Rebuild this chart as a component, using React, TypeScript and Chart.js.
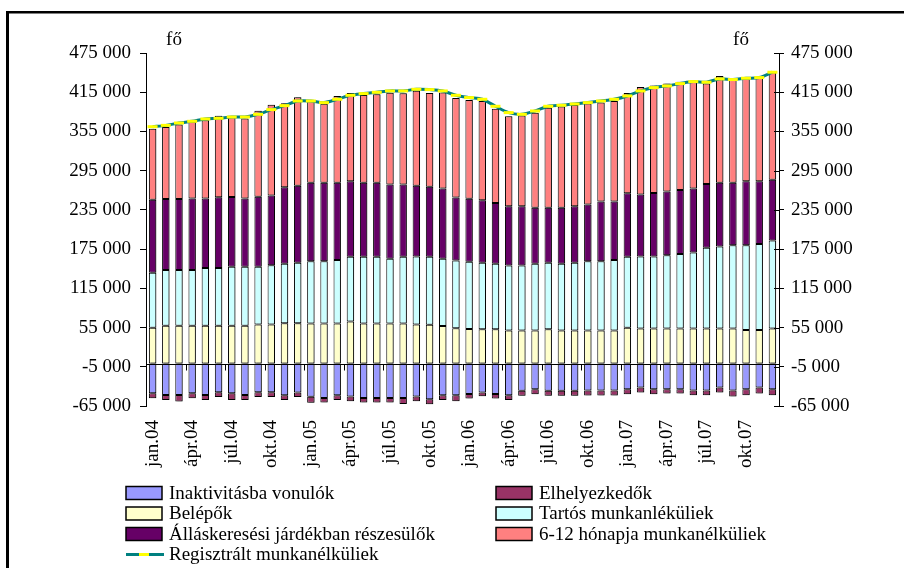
import React, { useEffect, useRef } from 'react';
import { Chart, registerables } from 'chart.js';

Chart.register(...registerables);

const categories = [
  'jan.04', 'febr.04', 'márc.04', 'ápr.04', 'máj.04', 'jún.04', 'júl.04', 'aug.04', 'szept.04', 'okt.04', 'nov.04', 'dec.04',
  'jan.05', 'febr.05', 'márc.05', 'ápr.05', 'máj.05', 'jún.05', 'júl.05', 'aug.05', 'szept.05', 'okt.05', 'nov.05', 'dec.05',
  'jan.06', 'febr.06', 'márc.06', 'ápr.06', 'máj.06', 'jún.06', 'júl.06', 'aug.06', 'szept.06', 'okt.06', 'nov.06', 'dec.06',
  'jan.07', 'febr.07', 'márc.07', 'ápr.07', 'máj.07', 'jún.07', 'júl.07', 'aug.07', 'szept.07', 'okt.07', 'nov.07', 'dec.07',
];

const inaktivitasba = [
  -45500, -48000, -48000, -45500, -48000, -43900, -45500, -48000, -43900, -43900, -48500, -44500,
  -50800, -52600, -48600, -50600, -52600, -52600, -52600, -52600, -50600, -54700, -48600, -48600,
  -46500, -44400, -46500, -48500, -41600, -39500, -41600, -41600, -41600, -41400, -41400, -41400,
  -39300, -36800, -39300, -39300, -39300, -41400, -41400, -36800, -41400, -39300, -36800, -39300,
];

const elhelyezkedok = [
  -7700, -7700, -10200, -7700, -7700, -7200, -10200, -7700, -7200, -7200, -7200, -6600,
  -9200, -7200, -7200, -7200, -7200, -7200, -7200, -9200, -7200, -7700, -7200, -9200,
  -7200, -5600, -7200, -7200, -7700, -7400, -7700, -7700, -7700, -7700, -7700, -7700,
  -7700, -7700, -7700, -6600, -6600, -7200, -7200, -7700, -9200, -9200, -9200, -9200,
];

const belepok = [
  54700, 57700, 57700, 57700, 57700, 57700, 57700, 57700, 59800, 59800, 61500, 61500,
  61300, 61300, 61300, 64400, 61300, 61300, 61300, 61300, 59500, 59300, 57200, 54000,
  52600, 52400, 52400, 50400, 50400, 50400, 52400, 50400, 50600, 50600, 50600, 50600,
  54700, 53700, 53700, 53700, 53700, 53700, 53700, 53700, 53700, 51100, 51100, 53700,
];

const tartos = [
  84300, 85300, 85300, 85300, 88400, 88400, 90400, 90400, 88400, 90400, 91000, 92500,
  95000, 95000, 97100, 99100, 102200, 102200, 99100, 102200, 104200, 104200, 103200, 103700,
  103200, 101700, 100200, 99600, 99600, 102200, 101700, 102200, 103700, 105800, 105800, 107800,
  108800, 109900, 109900, 111900, 114000, 116000, 123200, 125200, 127200, 129800, 131800, 134400,
];

const allaskeresesi = [
  111400, 108800, 108800, 109400, 106300, 108300, 106800, 104200, 106800, 106800, 117000, 118000,
  120100, 120100, 118000, 115500, 112900, 112900, 113400, 110400, 108300, 106800, 107300, 96100,
  96100, 95600, 93000, 90400, 90400, 85800, 84300, 85800, 86400, 86900, 91500, 89400,
  97100, 95000, 97100, 97600, 97600, 98100, 97600, 97600, 95600, 98100, 96100, 93000,
];

const honap612 = [
  108800, 109900, 114000, 117000, 119600, 124700, 122100, 122600, 131800, 139000, 128800, 135400,
  125200, 121100, 132900, 134900, 134400, 135400, 140500, 139500, 145100, 143600, 146700, 152300,
  151300, 151800, 144100, 138000, 139000, 145100, 152800, 154800, 154800, 154300, 151300, 153800,
  153300, 164500, 164500, 165100, 165600, 164500, 153800, 163500, 157400, 156900, 159900, 164000,
];

const regisztralt = [
  362300, 364300, 367900, 370500, 374100, 375100, 377100, 377100, 381200, 388400, 394500, 401600,
  401600, 399100, 404200, 410300, 412900, 414900, 417000, 417000, 419500, 419000, 417000, 410300,
  406800, 404200, 393500, 383800, 381200, 386300, 393500, 395000, 397000, 399100, 401600, 404200,
  409300, 417000, 422100, 424600, 428200, 431300, 430300, 435400, 434400, 436400, 437400, 445600,
];

const yMin = -65000;
const yMax = 475000;
const yStep = 60000;
const unitLabel = 'fő';

const FONT_FAMILY = '"Liberation Serif", "Times New Roman", serif';
const FONT_SIZE = 19;

function fmt(v: number): string {
  const n = Math.round(Math.abs(v)).toString().replace(/\B(?=(\d{3})+(?!\d))/g, ' ');
  return (v < 0 ? '-' : '') + n;
}

const decorPlugin = {
  id: 'decor',
  beforeDraw(chart: any) {
    const ctx = chart.ctx;
    ctx.save();
    ctx.fillStyle = '#ffffff';
    ctx.fillRect(0, 0, chart.width, chart.height);
    ctx.fillStyle = '#000000';
    ctx.fillRect(6, 11, 3, chart.height - 11);
    ctx.fillRect(6, 11, chart.width - 6, 2.5);
    ctx.restore();
  },
  beforeDatasetDraw(chart: any, args: any) {
    const ctx = chart.ctx;
    ctx.save();
    if (args.meta.type === 'bar') {
      ctx.shadowColor = 'rgba(0,0,0,0.35)';
      ctx.shadowOffsetX = 2;
      ctx.shadowOffsetY = 0;
      ctx.shadowBlur = 0;
    }
  },
  afterDatasetDraw(chart: any) {
    chart.ctx.restore();
  },
  afterDraw(chart: any) {
    const ctx = chart.ctx;
    const xs = chart.scales.x;
    const ys = chart.scales.y;
    const area = chart.chartArea;
    const y0 = Math.round(ys.getPixelForValue(0)) + 0.5;
    ctx.save();
    // zero line
    ctx.strokeStyle = '#000';
    ctx.lineWidth = 1;
    ctx.beginPath();
    ctx.moveTo(area.left, y0);
    ctx.lineTo(area.right, y0);
    ctx.stroke();
    // category tick marks on the zero line
    for (let k = 3; k < categories.length; k += 3) {
      const bx = Math.round((xs.getPixelForValue(k - 1) + xs.getPixelForValue(k)) / 2) + 0.5;
      ctx.beginPath();
      ctx.moveTo(bx, y0);
      ctx.lineTo(bx, y0 + 6);
      ctx.stroke();
    }
    // inner tick marks on right axis
    const y2 = chart.scales.y2;
    y2.ticks.forEach((t: any) => {
      const ty = Math.round(y2.getPixelForValue(t.value)) + 0.5;
      ctx.beginPath();
      ctx.moveTo(area.right - 5, ty);
      ctx.lineTo(area.right, ty);
      ctx.stroke();
    });
    // unit labels
    ctx.fillStyle = '#000';
    ctx.font = `${FONT_SIZE}px ${FONT_FAMILY}`;
    ctx.textBaseline = 'middle';
    ctx.textAlign = 'center';
    ctx.fillText(unitLabel, 174, 40);
    ctx.fillText(unitLabel, 741, 40);
    // legend
    ctx.textAlign = 'left';
    chart.data.datasets.forEach((d: any, i: number) => {
      const col = i % 2;
      const row = Math.floor(i / 2);
      const bx = col === 0 ? 126 : 496;
      const cy = 493 + row * 20.5;
      if (d.type === 'line') {
        ctx.strokeStyle = d.borderColor;
        ctx.lineWidth = 3;
        ctx.beginPath();
        ctx.moveTo(bx, cy);
        ctx.lineTo(bx + 38, cy);
        ctx.stroke();
        ctx.strokeStyle = d.pointBorderColor;
        ctx.beginPath();
        ctx.moveTo(bx + 13, cy);
        ctx.lineTo(bx + 23, cy);
        ctx.stroke();
      } else {
        ctx.fillStyle = d.backgroundColor;
        ctx.fillRect(bx, cy - 6.5, 36, 13);
        ctx.strokeStyle = '#000';
        ctx.lineWidth = 1.5;
        ctx.strokeRect(bx, cy - 6.5, 36, 13);
      }
      ctx.fillStyle = '#000';
      ctx.fillText(d.label, bx + 43, cy + 1);
    });
    ctx.restore();
  },
};

export default function App() {
  const ref = useRef<HTMLCanvasElement | null>(null);

  useEffect(() => {
    if (!ref.current) return;
    const font = { family: FONT_FAMILY, size: FONT_SIZE };
    const barCommon = {
      type: 'bar' as const,
      borderColor: '#000000',
      borderWidth: 1,
      borderSkipped: false,
      barPercentage: 0.56,
      categoryPercentage: 1,
      stack: 'main',
      order: 1,
    };
    const chart = new Chart(ref.current, {
      type: 'bar',
      data: {
        labels: categories,
        datasets: [
          { ...barCommon, label: 'Inaktivitásba vonulók', data: inaktivitasba, backgroundColor: '#9999FF' },
          { ...barCommon, label: 'Elhelyezkedők', data: elhelyezkedok, backgroundColor: '#993366' },
          { ...barCommon, label: 'Belépők', data: belepok, backgroundColor: '#FFFFCC' },
          { ...barCommon, label: 'Tartós munkanléküliek', data: tartos, backgroundColor: '#CCFFFF' },
          { ...barCommon, label: 'Álláskeresési járdékban részesülők', data: allaskeresesi, backgroundColor: '#660066' },
          { ...barCommon, label: '6-12 hónapja munkanélküliek', data: honap612, backgroundColor: '#FF8080' },
          {
            type: 'line',
            label: 'Regisztrált munkanélküliek',
            data: regisztralt,
            borderColor: '#008080',
            borderWidth: 3,
            pointStyle: 'line',
            pointRadius: 5,
            pointBorderColor: '#FFFF00',
            pointBackgroundColor: '#FFFF00',
            pointBorderWidth: 3,
            tension: 0.3,
            stack: 'reg',
            order: 0,
          } as any,
        ],
      },
      options: {
        responsive: false,
        animation: false,
        devicePixelRatio: 1,
        layout: { padding: { top: 53, left: 0, right: 0, bottom: 0 } },
        plugins: { legend: { display: false }, tooltip: { enabled: false } },
        scales: {
          x: {
            stacked: true,
            grid: { display: false, drawTicks: false },
            border: { display: false },
            ticks: {
              autoSkip: false,
              minRotation: 90,
              maxRotation: 90,
              padding: 14,
              color: '#000',
              font,
              callback: (_v: any, i: number) => (i % 3 === 0 ? categories[i] : ''),
            },
            afterFit: (s: any) => { s.height = 162; },
          },
          y: {
            stacked: true,
            position: 'left',
            min: yMin,
            max: yMax,
            ticks: { stepSize: yStep, padding: 9, color: '#000', font, callback: (v: any) => fmt(Number(v)) },
            grid: { drawOnChartArea: false, tickLength: 6, color: '#000' },
            border: { display: true, color: '#000', width: 1 },
            afterFit: (s: any) => { s.width = 146; },
          },
          y2: {
            position: 'right',
            min: yMin,
            max: yMax,
            ticks: { stepSize: yStep, padding: 7, color: '#000', font, callback: (v: any) => fmt(Number(v)) },
            grid: { drawOnChartArea: false, tickLength: 5, color: '#000' },
            border: { display: true, color: '#000', width: 1 },
            afterFit: (s: any) => { s.width = 125; },
          },
        },
      } as any,
      plugins: [decorPlugin],
    });
    return () => chart.destroy();
  }, []);

  return (
    <div style={{ position: 'absolute', left: 0, top: 0, width: 904, height: 568, background: '#fff' }}>
      <canvas ref={ref} width={904} height={568} style={{ display: 'block' }} />
    </div>
  );
}
